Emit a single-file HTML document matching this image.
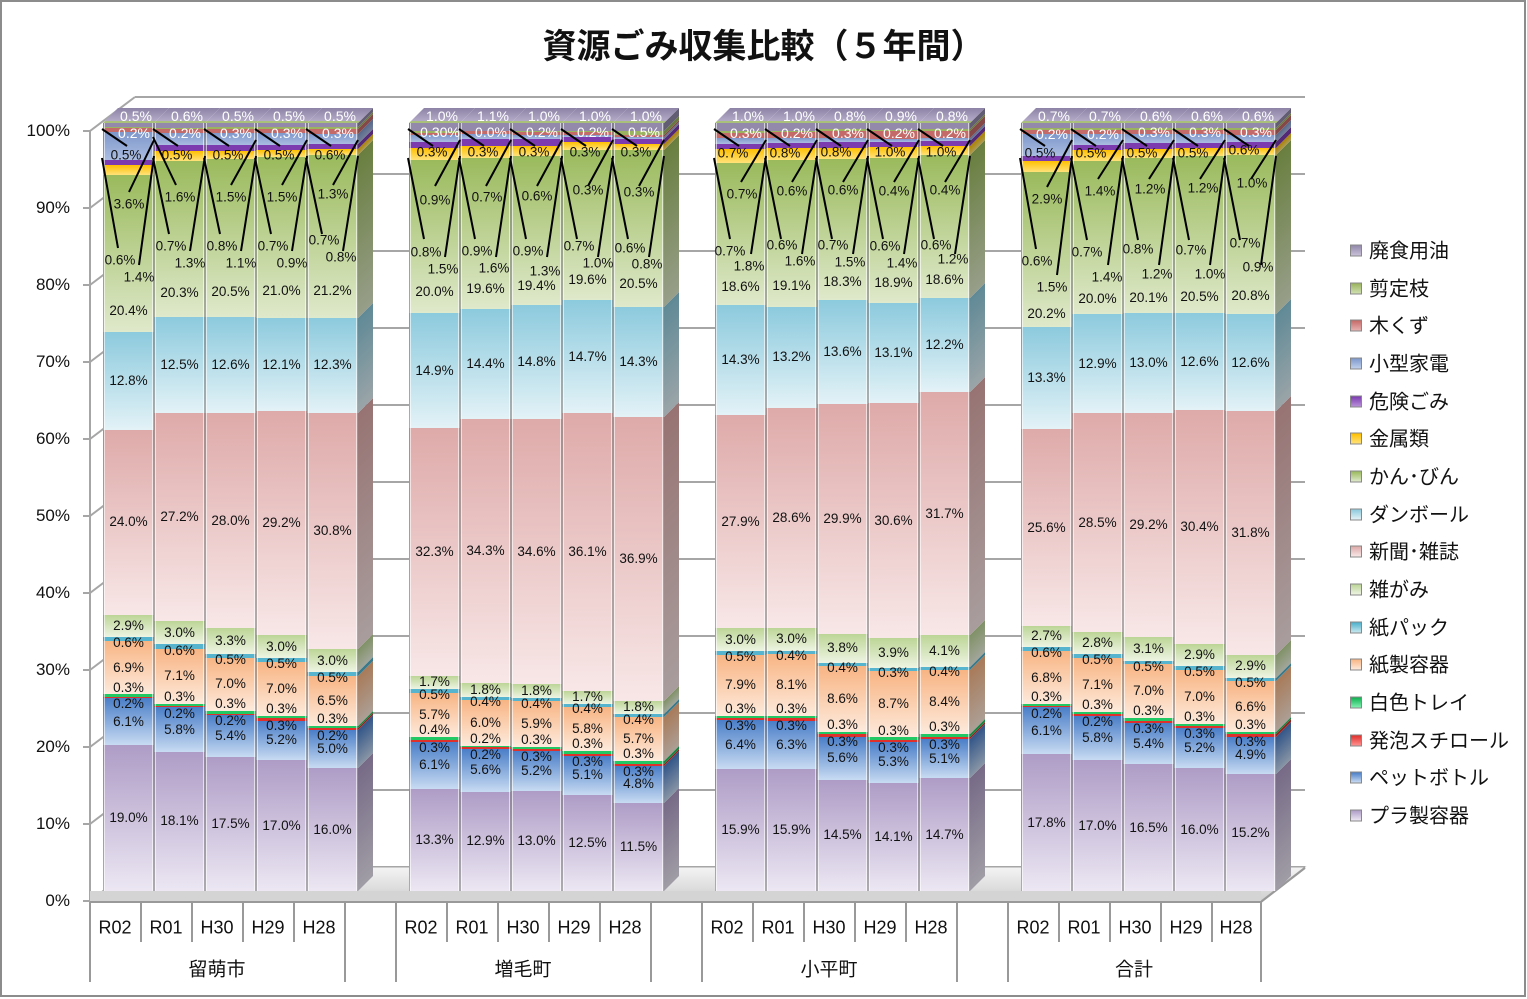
<!DOCTYPE html>
<html><head><meta charset="utf-8">
<style>
body{margin:0;background:#fff}
#c{position:relative;width:1527px;height:999px;overflow:hidden;font-family:"Liberation Sans","Noto Sans CJK JP",sans-serif;background:#fff}
svg.bg,svg.fg{position:absolute;left:0;top:0}
.bar{position:absolute;top:123px;height:768px;width:51px;display:flex;flex-direction:column-reverse;z-index:2}
.bar::after{content:"";position:absolute;left:0;top:0;right:0;bottom:0;border-left:1px solid rgba(120,120,120,.55);border-right:1px solid rgba(120,120,120,.55);box-shadow:inset 1px 0 0 rgba(255,255,255,.6),inset -1px 0 0 rgba(255,255,255,.6)}
.bar>div,.side>div{flex-basis:0;flex-shrink:0;min-height:0;position:relative}
.bar span{position:absolute;left:-4px;right:-4px;top:50%;margin-top:-8px;line-height:16px;text-align:center;font-size:13.5px;color:#111;white-space:nowrap;z-index:3}
.bar .s2 span{margin-top:-1px}.bar .s3 span{margin-top:-16px}.bar .s5 span{margin-top:-4px}
.g1 .s9 span{margin-top:46px}.g2 .s9 span{margin-top:47px}.g3 .s9 span{margin-top:45px}.g4 .s9 span{margin-top:54px}
.side{position:absolute;top:123px;width:15px;height:768px;transform:skewY(-45deg);transform-origin:0 0;display:flex;flex-direction:column-reverse;filter:brightness(.68);z-index:1}
.top{position:absolute;top:108px;height:15px;width:51px;transform:skewX(-45deg);transform-origin:0 100%;background:linear-gradient(#8d83a6,#b4abc8);border-bottom:2px solid #a9c07a;box-sizing:border-box;z-index:1}
.s0{background:linear-gradient(#ae9cc6,#ece7f3)}
.s1{background:linear-gradient(#4a7ec8,#c8dbf2)}
.s2{background:#e0302c}
.s3{background:#22c864}
.s4{background:linear-gradient(#f8b483,#fdeadc)}
.s5{background:#56b4cf}
.s6{background:linear-gradient(#bcd596,#eef4e3)}
.s7{background:linear-gradient(#deaaa9,#f8e7e7)}
.s8{background:linear-gradient(#8ccadd,#e3f2f7)}
.s9{background:linear-gradient(#9aba5c,#dfe9cb)}
.s10{background:linear-gradient(#ffc000,#ffe27a)}
.s11{background:#7c3cb0}
.s12{background:linear-gradient(#7e98cc,#aabce0)}
.s13{background:#c46a68}
.s14{background:#9ab35e}
.s15{background:#9289ab}
.l{position:absolute;transform:translate(-50%,-50%);font-size:13.5px;color:#111;white-space:nowrap;z-index:5}
.w{color:#fff;font-size:14px}
.ax{position:absolute;font-size:17px;color:#111;transform:translateY(-50%);right:1457px;text-align:right}
.cat{position:absolute;font-size:18px;color:#111;transform:translate(-50%,-50%);white-space:nowrap}
.grp{position:absolute;font-size:19px;color:#111;transform:translate(-50%,-50%);white-space:nowrap}
.lg{position:absolute;left:1350px;font-size:20px;color:#111;white-space:nowrap;transform:translateY(-50%)}
.lg i{display:inline-block;width:10px;height:10px;border:1px solid #888;margin-right:7px;vertical-align:middle;position:relative;top:-2px}
.title{position:absolute;left:0;width:1527px;top:19px;text-align:center;font-size:34px;font-weight:bold;color:#111}
</style></head><body><div id="c">
<svg class="bg" width="1527" height="999">
<rect x="1" y="1" width="1524" height="995" fill="none" stroke="#8c8c8c" stroke-width="2"/>
<defs><linearGradient id="fl" x1="0" y1="0" x2="0" y2="1"><stop offset="0" stop-color="#f4f4f4"/><stop offset="1" stop-color="#cfcfcf"/></linearGradient></defs>
<g stroke="#a6a6a6" stroke-width="2" fill="none">
<line x1="135" y1="867" x2="1305" y2="867"/><line x1="135" y1="790" x2="1305" y2="790"/><line x1="135" y1="713" x2="1305" y2="713"/><line x1="135" y1="636" x2="1305" y2="636"/><line x1="135" y1="559" x2="1305" y2="559"/><line x1="135" y1="482" x2="1305" y2="482"/><line x1="135" y1="405" x2="1305" y2="405"/><line x1="135" y1="328" x2="1305" y2="328"/><line x1="135" y1="251" x2="1305" y2="251"/><line x1="135" y1="174" x2="1305" y2="174"/><line x1="135" y1="97" x2="1305" y2="97"/>
<line x1="90" y1="901" x2="135" y2="867"/><line x1="90" y1="824" x2="135" y2="790"/><line x1="90" y1="747" x2="135" y2="713"/><line x1="90" y1="670" x2="135" y2="636"/><line x1="90" y1="593" x2="135" y2="559"/><line x1="90" y1="516" x2="135" y2="482"/><line x1="90" y1="439" x2="135" y2="405"/><line x1="90" y1="362" x2="135" y2="328"/><line x1="90" y1="285" x2="135" y2="251"/><line x1="90" y1="208" x2="135" y2="174"/><line x1="90" y1="131" x2="135" y2="97"/>
<line x1="90" y1="131" x2="90" y2="901"/>
<line x1="83" y1="901" x2="90" y2="901"/><line x1="83" y1="824" x2="90" y2="824"/><line x1="83" y1="747" x2="90" y2="747"/><line x1="83" y1="670" x2="90" y2="670"/><line x1="83" y1="593" x2="90" y2="593"/><line x1="83" y1="516" x2="90" y2="516"/><line x1="83" y1="439" x2="90" y2="439"/><line x1="83" y1="362" x2="90" y2="362"/><line x1="83" y1="285" x2="90" y2="285"/><line x1="83" y1="208" x2="90" y2="208"/><line x1="83" y1="131" x2="90" y2="131"/>
</g>
<polygon points="90,901 1261,901 1305,867 135,867" fill="url(#fl)" stroke="#a6a6a6" stroke-width="1"/>
<rect x="90" y="891" width="1171" height="10" fill="#d4d4d4"/>
<g stroke="#999" stroke-width="2">
<line x1="90" y1="902" x2="1261" y2="902"/><line x1="1261" y1="902" x2="1305" y2="868"/>
<line x1="90" y1="902" x2="90" y2="982"/><line x1="345" y1="902" x2="345" y2="982"/><line x1="396" y1="902" x2="396" y2="982"/><line x1="651" y1="902" x2="651" y2="982"/><line x1="702" y1="902" x2="702" y2="982"/><line x1="957" y1="902" x2="957" y2="982"/><line x1="1008" y1="902" x2="1008" y2="982"/><line x1="1261" y1="902" x2="1261" y2="982"/>
<line x1="141" y1="902" x2="141" y2="942"/><line x1="192" y1="902" x2="192" y2="942"/><line x1="243" y1="902" x2="243" y2="942"/><line x1="294" y1="902" x2="294" y2="942"/>
<line x1="447" y1="902" x2="447" y2="942"/><line x1="498" y1="902" x2="498" y2="942"/><line x1="549" y1="902" x2="549" y2="942"/><line x1="600" y1="902" x2="600" y2="942"/>
<line x1="753" y1="902" x2="753" y2="942"/><line x1="804" y1="902" x2="804" y2="942"/><line x1="855" y1="902" x2="855" y2="942"/><line x1="906" y1="902" x2="906" y2="942"/>
<line x1="1059" y1="902" x2="1059" y2="942"/><line x1="1110" y1="902" x2="1110" y2="942"/><line x1="1161" y1="902" x2="1161" y2="942"/><line x1="1212" y1="902" x2="1212" y2="942"/>
</g>
</svg>

<div class="title">資源ごみ収集比較（５年間）</div>

<div class="ax" style="top:131px">100%</div><div class="ax" style="top:208px">90%</div><div class="ax" style="top:285px">80%</div><div class="ax" style="top:362px">70%</div><div class="ax" style="top:439px">60%</div><div class="ax" style="top:516px">50%</div><div class="ax" style="top:593px">40%</div><div class="ax" style="top:670px">30%</div><div class="ax" style="top:747px">20%</div><div class="ax" style="top:824px">10%</div><div class="ax" style="top:901px">0%</div>

<div class="cat" style="left:115px;top:928px">R02</div><div class="cat" style="left:166px;top:928px">R01</div><div class="cat" style="left:217px;top:928px">H30</div><div class="cat" style="left:268px;top:928px">H29</div><div class="cat" style="left:319px;top:928px">H28</div>
<div class="cat" style="left:421px;top:928px">R02</div><div class="cat" style="left:472px;top:928px">R01</div><div class="cat" style="left:523px;top:928px">H30</div><div class="cat" style="left:574px;top:928px">H29</div><div class="cat" style="left:625px;top:928px">H28</div>
<div class="cat" style="left:727px;top:928px">R02</div><div class="cat" style="left:778px;top:928px">R01</div><div class="cat" style="left:829px;top:928px">H30</div><div class="cat" style="left:880px;top:928px">H29</div><div class="cat" style="left:931px;top:928px">H28</div>
<div class="cat" style="left:1033px;top:928px">R02</div><div class="cat" style="left:1084px;top:928px">R01</div><div class="cat" style="left:1135px;top:928px">H30</div><div class="cat" style="left:1186px;top:928px">H29</div><div class="cat" style="left:1236px;top:928px">H28</div>
<div class="grp" style="left:217px;top:968px">留萌市</div><div class="grp" style="left:523px;top:968px">増毛町</div><div class="grp" style="left:829px;top:968px">小平町</div><div class="grp" style="left:1134px;top:968px">合計</div>

<!-- side faces -->
<div class="side" style="left:358px"><div class="s0" style="flex-grow:16.0"></div><div class="s1" style="flex-grow:5.0"></div><div class="s2" style="flex-grow:0.2"></div><div class="s3" style="flex-grow:0.3"></div><div class="s4" style="flex-grow:6.5"></div><div class="s5" style="flex-grow:0.5"></div><div class="s6" style="flex-grow:3.0"></div><div class="s7" style="flex-grow:30.8"></div><div class="s8" style="flex-grow:12.3"></div><div class="s9" style="flex-grow:21.2"></div><div class="s10" style="flex-grow:0.8"></div><div class="s11" style="flex-grow:0.7"></div><div class="s12" style="flex-grow:1.3"></div><div class="s13" style="flex-grow:0.6"></div><div class="s14" style="flex-grow:0.3"></div><div class="s15" style="flex-grow:0.5"></div></div>
<div class="side" style="left:664px"><div class="s0" style="flex-grow:11.5"></div><div class="s1" style="flex-grow:4.8"></div><div class="s2" style="flex-grow:0.3"></div><div class="s3" style="flex-grow:0.3"></div><div class="s4" style="flex-grow:5.7"></div><div class="s5" style="flex-grow:0.4"></div><div class="s6" style="flex-grow:1.8"></div><div class="s7" style="flex-grow:36.9"></div><div class="s8" style="flex-grow:14.3"></div><div class="s9" style="flex-grow:20.5"></div><div class="s10" style="flex-grow:0.8"></div><div class="s11" style="flex-grow:0.6"></div><div class="s12" style="flex-grow:0.3"></div><div class="s13" style="flex-grow:0.3"></div><div class="s14" style="flex-grow:0.5"></div><div class="s15" style="flex-grow:1.0"></div></div>
<div class="side" style="left:970px"><div class="s0" style="flex-grow:14.7"></div><div class="s1" style="flex-grow:5.1"></div><div class="s2" style="flex-grow:0.3"></div><div class="s3" style="flex-grow:0.3"></div><div class="s4" style="flex-grow:8.4"></div><div class="s5" style="flex-grow:0.4"></div><div class="s6" style="flex-grow:4.1"></div><div class="s7" style="flex-grow:31.7"></div><div class="s8" style="flex-grow:12.2"></div><div class="s9" style="flex-grow:18.6"></div><div class="s10" style="flex-grow:1.2"></div><div class="s11" style="flex-grow:0.6"></div><div class="s12" style="flex-grow:0.4"></div><div class="s13" style="flex-grow:1.0"></div><div class="s14" style="flex-grow:0.2"></div><div class="s15" style="flex-grow:0.8"></div></div>
<div class="side" style="left:1276px"><div class="s0" style="flex-grow:15.2"></div><div class="s1" style="flex-grow:4.9"></div><div class="s2" style="flex-grow:0.3"></div><div class="s3" style="flex-grow:0.3"></div><div class="s4" style="flex-grow:6.6"></div><div class="s5" style="flex-grow:0.5"></div><div class="s6" style="flex-grow:2.9"></div><div class="s7" style="flex-grow:31.8"></div><div class="s8" style="flex-grow:12.6"></div><div class="s9" style="flex-grow:20.8"></div><div class="s10" style="flex-grow:0.9"></div><div class="s11" style="flex-grow:0.7"></div><div class="s12" style="flex-grow:1.0"></div><div class="s13" style="flex-grow:0.6"></div><div class="s14" style="flex-grow:0.3"></div><div class="s15" style="flex-grow:0.6"></div></div>

<!-- top faces -->
<div class="top" style="left:103px"></div><div class="top" style="left:154px"></div><div class="top" style="left:205px"></div><div class="top" style="left:256px"></div><div class="top" style="left:307px"></div>
<div class="top" style="left:409px"></div><div class="top" style="left:460px"></div><div class="top" style="left:511px"></div><div class="top" style="left:562px"></div><div class="top" style="left:613px"></div>
<div class="top" style="left:715px"></div><div class="top" style="left:766px"></div><div class="top" style="left:817px"></div><div class="top" style="left:868px"></div><div class="top" style="left:919px"></div>
<div class="top" style="left:1021px"></div><div class="top" style="left:1072px"></div><div class="top" style="left:1123px"></div><div class="top" style="left:1174px"></div><div class="top" style="left:1225px"></div>

<!-- Group 1 -->
<div class="g1">
<div class="bar" style="left:103px"><div class="s0" style="flex-grow:19.0"><span>19.0%</span></div><div class="s1" style="flex-grow:6.1"><span>6.1%</span></div><div class="s2" style="flex-grow:0.2"><span>0.2%</span></div><div class="s3" style="flex-grow:0.3"><span>0.3%</span></div><div class="s4" style="flex-grow:6.9"><span>6.9%</span></div><div class="s5" style="flex-grow:0.6"><span>0.6%</span></div><div class="s6" style="flex-grow:2.9"><span>2.9%</span></div><div class="s7" style="flex-grow:24.0"><span>24.0%</span></div><div class="s8" style="flex-grow:12.8"><span>12.8%</span></div><div class="s9" style="flex-grow:20.4"><span style="margin-top:49px">20.4%</span></div><div class="s10" style="flex-grow:1.4"></div><div class="s11" style="flex-grow:0.6"></div><div class="s12" style="flex-grow:3.6"></div><div class="s13" style="flex-grow:0.5"></div><div class="s14" style="flex-grow:0.2"></div><div class="s15" style="flex-grow:0.5"></div></div>
<div class="bar" style="left:154px"><div class="s0" style="flex-grow:18.1"><span>18.1%</span></div><div class="s1" style="flex-grow:5.8"><span>5.8%</span></div><div class="s2" style="flex-grow:0.2"><span>0.2%</span></div><div class="s3" style="flex-grow:0.3"><span>0.3%</span></div><div class="s4" style="flex-grow:7.1"><span>7.1%</span></div><div class="s5" style="flex-grow:0.6"><span>0.6%</span></div><div class="s6" style="flex-grow:3.0"><span>3.0%</span></div><div class="s7" style="flex-grow:27.2"><span>27.2%</span></div><div class="s8" style="flex-grow:12.5"><span>12.5%</span></div><div class="s9" style="flex-grow:20.3"><span>20.3%</span></div><div class="s10" style="flex-grow:1.3"></div><div class="s11" style="flex-grow:0.7"></div><div class="s12" style="flex-grow:1.6"></div><div class="s13" style="flex-grow:0.5"></div><div class="s14" style="flex-grow:0.2"></div><div class="s15" style="flex-grow:0.6"></div></div>
<div class="bar" style="left:205px"><div class="s0" style="flex-grow:17.5"><span>17.5%</span></div><div class="s1" style="flex-grow:5.4"><span>5.4%</span></div><div class="s2" style="flex-grow:0.2"><span>0.2%</span></div><div class="s3" style="flex-grow:0.3"><span>0.3%</span></div><div class="s4" style="flex-grow:7.0"><span>7.0%</span></div><div class="s5" style="flex-grow:0.5"><span>0.5%</span></div><div class="s6" style="flex-grow:3.3"><span>3.3%</span></div><div class="s7" style="flex-grow:28.0"><span>28.0%</span></div><div class="s8" style="flex-grow:12.6"><span>12.6%</span></div><div class="s9" style="flex-grow:20.5"><span>20.5%</span></div><div class="s10" style="flex-grow:1.1"></div><div class="s11" style="flex-grow:0.8"></div><div class="s12" style="flex-grow:1.5"></div><div class="s13" style="flex-grow:0.5"></div><div class="s14" style="flex-grow:0.3"></div><div class="s15" style="flex-grow:0.5"></div></div>
<div class="bar" style="left:256px"><div class="s0" style="flex-grow:17.0"><span>17.0%</span></div><div class="s1" style="flex-grow:5.2"><span>5.2%</span></div><div class="s2" style="flex-grow:0.3"><span>0.3%</span></div><div class="s3" style="flex-grow:0.3"><span>0.3%</span></div><div class="s4" style="flex-grow:7.0"><span>7.0%</span></div><div class="s5" style="flex-grow:0.5"><span>0.5%</span></div><div class="s6" style="flex-grow:3.0"><span>3.0%</span></div><div class="s7" style="flex-grow:29.2"><span>29.2%</span></div><div class="s8" style="flex-grow:12.1"><span>12.1%</span></div><div class="s9" style="flex-grow:21.0"><span>21.0%</span></div><div class="s10" style="flex-grow:0.9"></div><div class="s11" style="flex-grow:0.7"></div><div class="s12" style="flex-grow:1.5"></div><div class="s13" style="flex-grow:0.5"></div><div class="s14" style="flex-grow:0.3"></div><div class="s15" style="flex-grow:0.5"></div></div>
<div class="bar" style="left:307px"><div class="s0" style="flex-grow:16.0"><span>16.0%</span></div><div class="s1" style="flex-grow:5.0"><span>5.0%</span></div><div class="s2" style="flex-grow:0.2"><span>0.2%</span></div><div class="s3" style="flex-grow:0.3"><span>0.3%</span></div><div class="s4" style="flex-grow:6.5"><span>6.5%</span></div><div class="s5" style="flex-grow:0.5"><span>0.5%</span></div><div class="s6" style="flex-grow:3.0"><span>3.0%</span></div><div class="s7" style="flex-grow:30.8"><span>30.8%</span></div><div class="s8" style="flex-grow:12.3"><span>12.3%</span></div><div class="s9" style="flex-grow:21.2"><span>21.2%</span></div><div class="s10" style="flex-grow:0.8"></div><div class="s11" style="flex-grow:0.7"></div><div class="s12" style="flex-grow:1.3"></div><div class="s13" style="flex-grow:0.6"></div><div class="s14" style="flex-grow:0.3"></div><div class="s15" style="flex-grow:0.5"></div></div>
</div>

<!-- Group 2 -->
<div class="g2">
<div class="bar" style="left:409px"><div class="s0" style="flex-grow:13.3"><span>13.3%</span></div><div class="s1" style="flex-grow:6.1"><span>6.1%</span></div><div class="s2" style="flex-grow:0.3"><span>0.3%</span></div><div class="s3" style="flex-grow:0.4"><span>0.4%</span></div><div class="s4" style="flex-grow:5.7"><span>5.7%</span></div><div class="s5" style="flex-grow:0.5"><span>0.5%</span></div><div class="s6" style="flex-grow:1.7"><span>1.7%</span></div><div class="s7" style="flex-grow:32.3"><span>32.3%</span></div><div class="s8" style="flex-grow:14.9"><span>14.9%</span></div><div class="s9" style="flex-grow:20.0"><span>20.0%</span></div><div class="s10" style="flex-grow:1.5"></div><div class="s11" style="flex-grow:0.8"></div><div class="s12" style="flex-grow:0.9"></div><div class="s13" style="flex-grow:0.3"></div><div class="s14" style="flex-grow:0.3"></div><div class="s15" style="flex-grow:1.0"></div></div>
<div class="bar" style="left:460px"><div class="s0" style="flex-grow:12.9"><span>12.9%</span></div><div class="s1" style="flex-grow:5.6"><span>5.6%</span></div><div class="s2" style="flex-grow:0.2"><span>0.2%</span></div><div class="s3" style="flex-grow:0.2"><span>0.2%</span></div><div class="s4" style="flex-grow:6.0"><span>6.0%</span></div><div class="s5" style="flex-grow:0.4"><span>0.4%</span></div><div class="s6" style="flex-grow:1.8"><span>1.8%</span></div><div class="s7" style="flex-grow:34.3"><span>34.3%</span></div><div class="s8" style="flex-grow:14.4"><span>14.4%</span></div><div class="s9" style="flex-grow:19.6"><span>19.6%</span></div><div class="s10" style="flex-grow:1.6"></div><div class="s11" style="flex-grow:0.9"></div><div class="s12" style="flex-grow:0.7"></div><div class="s13" style="flex-grow:0.3"></div><div class="s14" style="flex-grow:0.0"></div><div class="s15" style="flex-grow:1.1"></div></div>
<div class="bar" style="left:511px"><div class="s0" style="flex-grow:13.0"><span>13.0%</span></div><div class="s1" style="flex-grow:5.2"><span>5.2%</span></div><div class="s2" style="flex-grow:0.3"><span>0.3%</span></div><div class="s3" style="flex-grow:0.3"><span>0.3%</span></div><div class="s4" style="flex-grow:5.9"><span>5.9%</span></div><div class="s5" style="flex-grow:0.4"><span>0.4%</span></div><div class="s6" style="flex-grow:1.8"><span>1.8%</span></div><div class="s7" style="flex-grow:34.6"><span>34.6%</span></div><div class="s8" style="flex-grow:14.8"><span>14.8%</span></div><div class="s9" style="flex-grow:19.4"><span>19.4%</span></div><div class="s10" style="flex-grow:1.3"></div><div class="s11" style="flex-grow:0.9"></div><div class="s12" style="flex-grow:0.6"></div><div class="s13" style="flex-grow:0.3"></div><div class="s14" style="flex-grow:0.2"></div><div class="s15" style="flex-grow:1.0"></div></div>
<div class="bar" style="left:562px"><div class="s0" style="flex-grow:12.5"><span>12.5%</span></div><div class="s1" style="flex-grow:5.1"><span>5.1%</span></div><div class="s2" style="flex-grow:0.3"><span>0.3%</span></div><div class="s3" style="flex-grow:0.3"><span>0.3%</span></div><div class="s4" style="flex-grow:5.8"><span>5.8%</span></div><div class="s5" style="flex-grow:0.4"><span>0.4%</span></div><div class="s6" style="flex-grow:1.7"><span>1.7%</span></div><div class="s7" style="flex-grow:36.1"><span>36.1%</span></div><div class="s8" style="flex-grow:14.7"><span>14.7%</span></div><div class="s9" style="flex-grow:19.6"><span>19.6%</span></div><div class="s10" style="flex-grow:1.0"></div><div class="s11" style="flex-grow:0.7"></div><div class="s12" style="flex-grow:0.3"></div><div class="s13" style="flex-grow:0.3"></div><div class="s14" style="flex-grow:0.2"></div><div class="s15" style="flex-grow:1.0"></div></div>
<div class="bar" style="left:613px"><div class="s0" style="flex-grow:11.5"><span>11.5%</span></div><div class="s1" style="flex-grow:4.8"><span>4.8%</span></div><div class="s2" style="flex-grow:0.3"><span>0.3%</span></div><div class="s3" style="flex-grow:0.3"><span>0.3%</span></div><div class="s4" style="flex-grow:5.7"><span>5.7%</span></div><div class="s5" style="flex-grow:0.4"><span>0.4%</span></div><div class="s6" style="flex-grow:1.8"><span>1.8%</span></div><div class="s7" style="flex-grow:36.9"><span>36.9%</span></div><div class="s8" style="flex-grow:14.3"><span>14.3%</span></div><div class="s9" style="flex-grow:20.5"><span>20.5%</span></div><div class="s10" style="flex-grow:0.8"></div><div class="s11" style="flex-grow:0.6"></div><div class="s12" style="flex-grow:0.3"></div><div class="s13" style="flex-grow:0.3"></div><div class="s14" style="flex-grow:0.5"></div><div class="s15" style="flex-grow:1.0"></div></div>
</div>

<!-- Group 3 -->
<div class="g3">
<div class="bar" style="left:715px"><div class="s0" style="flex-grow:15.9"><span>15.9%</span></div><div class="s1" style="flex-grow:6.4"><span>6.4%</span></div><div class="s2" style="flex-grow:0.3"><span>0.3%</span></div><div class="s3" style="flex-grow:0.3"><span>0.3%</span></div><div class="s4" style="flex-grow:7.9"><span>7.9%</span></div><div class="s5" style="flex-grow:0.5"><span>0.5%</span></div><div class="s6" style="flex-grow:3.0"><span>3.0%</span></div><div class="s7" style="flex-grow:27.9"><span>27.9%</span></div><div class="s8" style="flex-grow:14.3"><span>14.3%</span></div><div class="s9" style="flex-grow:18.6"><span>18.6%</span></div><div class="s10" style="flex-grow:1.8"></div><div class="s11" style="flex-grow:0.7"></div><div class="s12" style="flex-grow:0.7"></div><div class="s13" style="flex-grow:0.7"></div><div class="s14" style="flex-grow:0.3"></div><div class="s15" style="flex-grow:1.0"></div></div>
<div class="bar" style="left:766px"><div class="s0" style="flex-grow:15.9"><span>15.9%</span></div><div class="s1" style="flex-grow:6.3"><span>6.3%</span></div><div class="s2" style="flex-grow:0.3"><span>0.3%</span></div><div class="s3" style="flex-grow:0.3"><span>0.3%</span></div><div class="s4" style="flex-grow:8.1"><span>8.1%</span></div><div class="s5" style="flex-grow:0.4"><span>0.4%</span></div><div class="s6" style="flex-grow:3.0"><span>3.0%</span></div><div class="s7" style="flex-grow:28.6"><span>28.6%</span></div><div class="s8" style="flex-grow:13.2"><span>13.2%</span></div><div class="s9" style="flex-grow:19.1"><span>19.1%</span></div><div class="s10" style="flex-grow:1.6"></div><div class="s11" style="flex-grow:0.6"></div><div class="s12" style="flex-grow:0.6"></div><div class="s13" style="flex-grow:0.8"></div><div class="s14" style="flex-grow:0.2"></div><div class="s15" style="flex-grow:1.0"></div></div>
<div class="bar" style="left:817px"><div class="s0" style="flex-grow:14.5"><span>14.5%</span></div><div class="s1" style="flex-grow:5.6"><span>5.6%</span></div><div class="s2" style="flex-grow:0.3"><span>0.3%</span></div><div class="s3" style="flex-grow:0.3"><span>0.3%</span></div><div class="s4" style="flex-grow:8.6"><span>8.6%</span></div><div class="s5" style="flex-grow:0.4"><span>0.4%</span></div><div class="s6" style="flex-grow:3.8"><span>3.8%</span></div><div class="s7" style="flex-grow:29.9"><span>29.9%</span></div><div class="s8" style="flex-grow:13.6"><span>13.6%</span></div><div class="s9" style="flex-grow:18.3"><span>18.3%</span></div><div class="s10" style="flex-grow:1.5"></div><div class="s11" style="flex-grow:0.7"></div><div class="s12" style="flex-grow:0.6"></div><div class="s13" style="flex-grow:0.8"></div><div class="s14" style="flex-grow:0.3"></div><div class="s15" style="flex-grow:0.8"></div></div>
<div class="bar" style="left:868px"><div class="s0" style="flex-grow:14.1"><span>14.1%</span></div><div class="s1" style="flex-grow:5.3"><span>5.3%</span></div><div class="s2" style="flex-grow:0.3"><span>0.3%</span></div><div class="s3" style="flex-grow:0.3"><span>0.3%</span></div><div class="s4" style="flex-grow:8.7"><span>8.7%</span></div><div class="s5" style="flex-grow:0.3"><span>0.3%</span></div><div class="s6" style="flex-grow:3.9"><span>3.9%</span></div><div class="s7" style="flex-grow:30.6"><span>30.6%</span></div><div class="s8" style="flex-grow:13.1"><span>13.1%</span></div><div class="s9" style="flex-grow:18.9"><span>18.9%</span></div><div class="s10" style="flex-grow:1.4"></div><div class="s11" style="flex-grow:0.6"></div><div class="s12" style="flex-grow:0.4"></div><div class="s13" style="flex-grow:1.0"></div><div class="s14" style="flex-grow:0.2"></div><div class="s15" style="flex-grow:0.9"></div></div>
<div class="bar" style="left:919px"><div class="s0" style="flex-grow:14.7"><span>14.7%</span></div><div class="s1" style="flex-grow:5.1"><span>5.1%</span></div><div class="s2" style="flex-grow:0.3"><span>0.3%</span></div><div class="s3" style="flex-grow:0.3"><span>0.3%</span></div><div class="s4" style="flex-grow:8.4"><span>8.4%</span></div><div class="s5" style="flex-grow:0.4"><span>0.4%</span></div><div class="s6" style="flex-grow:4.1"><span>4.1%</span></div><div class="s7" style="flex-grow:31.7"><span>31.7%</span></div><div class="s8" style="flex-grow:12.2"><span>12.2%</span></div><div class="s9" style="flex-grow:18.6"><span>18.6%</span></div><div class="s10" style="flex-grow:1.2"></div><div class="s11" style="flex-grow:0.6"></div><div class="s12" style="flex-grow:0.4"></div><div class="s13" style="flex-grow:1.0"></div><div class="s14" style="flex-grow:0.2"></div><div class="s15" style="flex-grow:0.8"></div></div>
</div>

<!-- Group 4 -->
<div class="g4">
<div class="bar" style="left:1021px"><div class="s0" style="flex-grow:17.8"><span>17.8%</span></div><div class="s1" style="flex-grow:6.1"><span>6.1%</span></div><div class="s2" style="flex-grow:0.2"><span>0.2%</span></div><div class="s3" style="flex-grow:0.3"><span>0.3%</span></div><div class="s4" style="flex-grow:6.8"><span>6.8%</span></div><div class="s5" style="flex-grow:0.6"><span>0.6%</span></div><div class="s6" style="flex-grow:2.7"><span>2.7%</span></div><div class="s7" style="flex-grow:25.6"><span>25.6%</span></div><div class="s8" style="flex-grow:13.3"><span>13.3%</span></div><div class="s9" style="flex-grow:20.2"><span style="margin-top:56px">20.2%</span></div><div class="s10" style="flex-grow:1.5"></div><div class="s11" style="flex-grow:0.6"></div><div class="s12" style="flex-grow:2.9"></div><div class="s13" style="flex-grow:0.5"></div><div class="s14" style="flex-grow:0.2"></div><div class="s15" style="flex-grow:0.7"></div></div>
<div class="bar" style="left:1072px"><div class="s0" style="flex-grow:17.0"><span>17.0%</span></div><div class="s1" style="flex-grow:5.8"><span>5.8%</span></div><div class="s2" style="flex-grow:0.2"><span>0.2%</span></div><div class="s3" style="flex-grow:0.3"><span>0.3%</span></div><div class="s4" style="flex-grow:7.1"><span>7.1%</span></div><div class="s5" style="flex-grow:0.5"><span>0.5%</span></div><div class="s6" style="flex-grow:2.8"><span>2.8%</span></div><div class="s7" style="flex-grow:28.5"><span>28.5%</span></div><div class="s8" style="flex-grow:12.9"><span>12.9%</span></div><div class="s9" style="flex-grow:20.0"><span>20.0%</span></div><div class="s10" style="flex-grow:1.4"></div><div class="s11" style="flex-grow:0.7"></div><div class="s12" style="flex-grow:1.4"></div><div class="s13" style="flex-grow:0.5"></div><div class="s14" style="flex-grow:0.2"></div><div class="s15" style="flex-grow:0.7"></div></div>
<div class="bar" style="left:1123px"><div class="s0" style="flex-grow:16.5"><span>16.5%</span></div><div class="s1" style="flex-grow:5.4"><span>5.4%</span></div><div class="s2" style="flex-grow:0.3"><span>0.3%</span></div><div class="s3" style="flex-grow:0.3"><span>0.3%</span></div><div class="s4" style="flex-grow:7.0"><span>7.0%</span></div><div class="s5" style="flex-grow:0.5"><span>0.5%</span></div><div class="s6" style="flex-grow:3.1"><span>3.1%</span></div><div class="s7" style="flex-grow:29.2"><span>29.2%</span></div><div class="s8" style="flex-grow:13.0"><span>13.0%</span></div><div class="s9" style="flex-grow:20.1"><span>20.1%</span></div><div class="s10" style="flex-grow:1.2"></div><div class="s11" style="flex-grow:0.8"></div><div class="s12" style="flex-grow:1.2"></div><div class="s13" style="flex-grow:0.5"></div><div class="s14" style="flex-grow:0.3"></div><div class="s15" style="flex-grow:0.6"></div></div>
<div class="bar" style="left:1174px"><div class="s0" style="flex-grow:16.0"><span>16.0%</span></div><div class="s1" style="flex-grow:5.2"><span>5.2%</span></div><div class="s2" style="flex-grow:0.3"><span>0.3%</span></div><div class="s3" style="flex-grow:0.3"><span>0.3%</span></div><div class="s4" style="flex-grow:7.0"><span>7.0%</span></div><div class="s5" style="flex-grow:0.5"><span>0.5%</span></div><div class="s6" style="flex-grow:2.9"><span>2.9%</span></div><div class="s7" style="flex-grow:30.4"><span>30.4%</span></div><div class="s8" style="flex-grow:12.6"><span>12.6%</span></div><div class="s9" style="flex-grow:20.5"><span>20.5%</span></div><div class="s10" style="flex-grow:1.0"></div><div class="s11" style="flex-grow:0.7"></div><div class="s12" style="flex-grow:1.2"></div><div class="s13" style="flex-grow:0.5"></div><div class="s14" style="flex-grow:0.3"></div><div class="s15" style="flex-grow:0.6"></div></div>
<div class="bar" style="left:1225px"><div class="s0" style="flex-grow:15.2"><span>15.2%</span></div><div class="s1" style="flex-grow:4.9"><span>4.9%</span></div><div class="s2" style="flex-grow:0.3"><span>0.3%</span></div><div class="s3" style="flex-grow:0.3"><span>0.3%</span></div><div class="s4" style="flex-grow:6.6"><span>6.6%</span></div><div class="s5" style="flex-grow:0.5"><span>0.5%</span></div><div class="s6" style="flex-grow:2.9"><span>2.9%</span></div><div class="s7" style="flex-grow:31.8"><span>31.8%</span></div><div class="s8" style="flex-grow:12.6"><span>12.6%</span></div><div class="s9" style="flex-grow:20.8"><span>20.8%</span></div><div class="s10" style="flex-grow:0.9"></div><div class="s11" style="flex-grow:0.7"></div><div class="s12" style="flex-grow:1.0"></div><div class="s13" style="flex-grow:0.6"></div><div class="s14" style="flex-grow:0.3"></div><div class="s15" style="flex-grow:0.6"></div></div>
</div>

<!-- leader lines -->
<svg class="fg" width="1527" height="999" style="z-index:4">
<g stroke="#000" stroke-width="2">
<line x1="102" y1="129" x2="127" y2="146"/><line x1="129" y1="192" x2="154" y2="140"/><line x1="102" y1="158" x2="118" y2="248"/><line x1="139" y1="265" x2="154" y2="156"/>
<line x1="153" y1="129" x2="178" y2="146"/><line x1="153" y1="137" x2="176" y2="185"/><line x1="153" y1="158" x2="169" y2="234"/><line x1="190" y1="251" x2="205" y2="156"/>
<line x1="204" y1="129" x2="229" y2="146"/><line x1="231" y1="185" x2="256" y2="140"/><line x1="204" y1="158" x2="220" y2="234"/><line x1="241" y1="251" x2="256" y2="156"/>
<line x1="255" y1="129" x2="280" y2="146"/><line x1="282" y1="185" x2="307" y2="140"/><line x1="255" y1="158" x2="271" y2="234"/><line x1="292" y1="251" x2="307" y2="156"/>
<line x1="306" y1="129" x2="331" y2="146"/><line x1="333" y1="185" x2="358" y2="140"/><line x1="306" y1="158" x2="322" y2="234"/><line x1="343" y1="251" x2="358" y2="156"/>

<line x1="408" y1="129" x2="433" y2="146"/><line x1="435" y1="186" x2="460" y2="140"/><line x1="408" y1="158" x2="424" y2="239"/><line x1="445" y1="257" x2="460" y2="156"/>
<line x1="459" y1="129" x2="484" y2="146"/><line x1="486" y1="186" x2="511" y2="140"/><line x1="459" y1="158" x2="475" y2="239"/><line x1="496" y1="257" x2="511" y2="156"/>
<line x1="510" y1="129" x2="535" y2="146"/><line x1="537" y1="186" x2="562" y2="140"/><line x1="510" y1="158" x2="526" y2="239"/><line x1="547" y1="257" x2="562" y2="156"/>
<line x1="561" y1="129" x2="586" y2="146"/><line x1="588" y1="186" x2="613" y2="140"/><line x1="561" y1="158" x2="577" y2="239"/><line x1="598" y1="257" x2="613" y2="156"/>
<line x1="612" y1="129" x2="637" y2="146"/><line x1="639" y1="186" x2="664" y2="140"/><line x1="612" y1="158" x2="628" y2="239"/><line x1="649" y1="257" x2="664" y2="156"/>

<line x1="714" y1="129" x2="739" y2="146"/><line x1="741" y1="182" x2="766" y2="140"/><line x1="714" y1="158" x2="730" y2="239"/><line x1="751" y1="254" x2="766" y2="156"/>
<line x1="765" y1="129" x2="790" y2="146"/><line x1="792" y1="182" x2="817" y2="140"/><line x1="765" y1="158" x2="781" y2="239"/><line x1="802" y1="254" x2="817" y2="156"/>
<line x1="816" y1="129" x2="841" y2="146"/><line x1="843" y1="182" x2="868" y2="140"/><line x1="816" y1="158" x2="832" y2="239"/><line x1="853" y1="254" x2="868" y2="156"/>
<line x1="867" y1="129" x2="892" y2="146"/><line x1="894" y1="182" x2="919" y2="140"/><line x1="867" y1="158" x2="883" y2="239"/><line x1="904" y1="254" x2="919" y2="156"/>
<line x1="918" y1="129" x2="943" y2="146"/><line x1="945" y1="182" x2="970" y2="140"/><line x1="918" y1="158" x2="934" y2="239"/><line x1="955" y1="254" x2="970" y2="156"/>

<line x1="1020" y1="129" x2="1045" y2="146"/><line x1="1047" y1="187" x2="1072" y2="140"/><line x1="1020" y1="158" x2="1036" y2="249"/><line x1="1057" y1="275" x2="1072" y2="156"/>
<line x1="1071" y1="129" x2="1096" y2="146"/><line x1="1098" y1="179" x2="1123" y2="140"/><line x1="1071" y1="158" x2="1087" y2="240"/><line x1="1108" y1="265" x2="1123" y2="156"/>
<line x1="1122" y1="129" x2="1147" y2="146"/><line x1="1149" y1="179" x2="1174" y2="140"/><line x1="1122" y1="158" x2="1138" y2="240"/><line x1="1159" y1="265" x2="1174" y2="156"/>
<line x1="1173" y1="129" x2="1198" y2="146"/><line x1="1200" y1="179" x2="1225" y2="140"/><line x1="1173" y1="158" x2="1189" y2="240"/><line x1="1210" y1="265" x2="1225" y2="156"/>
<line x1="1224" y1="129" x2="1249" y2="146"/><line x1="1251" y1="179" x2="1276" y2="140"/><line x1="1224" y1="158" x2="1240" y2="240"/><line x1="1261" y1="265" x2="1276" y2="156"/>
</g></svg>

<!-- leader labels G1 -->
<div class="l w" style="left:136px;top:116px">0.5%</div><div class="l w" style="left:134px;top:133px">0.2%</div><div class="l" style="left:126px;top:155px">0.5%</div><div class="l" style="left:129px;top:204px">3.6%</div><div class="l" style="left:120px;top:260px">0.6%</div><div class="l" style="left:139px;top:277px">1.4%</div>
<div class="l w" style="left:187px;top:116px">0.6%</div><div class="l w" style="left:185px;top:133px">0.2%</div><div class="l" style="left:177px;top:155px">0.5%</div><div class="l" style="left:180px;top:197px">1.6%</div><div class="l" style="left:171px;top:246px">0.7%</div><div class="l" style="left:190px;top:263px">1.3%</div>
<div class="l w" style="left:238px;top:116px">0.5%</div><div class="l w" style="left:236px;top:133px">0.3%</div><div class="l" style="left:228px;top:155px">0.5%</div><div class="l" style="left:231px;top:197px">1.5%</div><div class="l" style="left:222px;top:246px">0.8%</div><div class="l" style="left:241px;top:263px">1.1%</div>
<div class="l w" style="left:289px;top:116px">0.5%</div><div class="l w" style="left:287px;top:133px">0.3%</div><div class="l" style="left:279px;top:155px">0.5%</div><div class="l" style="left:282px;top:197px">1.5%</div><div class="l" style="left:273px;top:246px">0.7%</div><div class="l" style="left:292px;top:263px">0.9%</div>
<div class="l w" style="left:340px;top:116px">0.5%</div><div class="l w" style="left:338px;top:133px">0.3%</div><div class="l" style="left:330px;top:155px">0.6%</div><div class="l" style="left:333px;top:194px">1.3%</div><div class="l" style="left:324px;top:240px">0.7%</div><div class="l" style="left:341px;top:257px">0.8%</div>
<!-- G2 -->
<div class="l w" style="left:442px;top:116px">1.0%</div><div class="l w" style="left:440px;top:132px">0.30%</div><div class="l" style="left:432px;top:152px">0.3%</div><div class="l" style="left:435px;top:200px">0.9%</div><div class="l" style="left:426px;top:252px">0.8%</div><div class="l" style="left:443px;top:269px">1.5%</div>
<div class="l w" style="left:493px;top:116px">1.1%</div><div class="l w" style="left:491px;top:132px">0.0%</div><div class="l" style="left:483px;top:152px">0.3%</div><div class="l" style="left:487px;top:197px">0.7%</div><div class="l" style="left:477px;top:251px">0.9%</div><div class="l" style="left:494px;top:268px">1.6%</div>
<div class="l w" style="left:544px;top:116px">1.0%</div><div class="l w" style="left:542px;top:132px">0.2%</div><div class="l" style="left:534px;top:152px">0.3%</div><div class="l" style="left:537px;top:196px">0.6%</div><div class="l" style="left:528px;top:251px">0.9%</div><div class="l" style="left:545px;top:271px">1.3%</div>
<div class="l w" style="left:595px;top:116px">1.0%</div><div class="l w" style="left:593px;top:132px">0.2%</div><div class="l" style="left:585px;top:152px">0.3%</div><div class="l" style="left:588px;top:190px">0.3%</div><div class="l" style="left:579px;top:246px">0.7%</div><div class="l" style="left:598px;top:263px">1.0%</div>
<div class="l w" style="left:646px;top:116px">1.0%</div><div class="l w" style="left:644px;top:132px">0.5%</div><div class="l" style="left:636px;top:152px">0.3%</div><div class="l" style="left:639px;top:192px">0.3%</div><div class="l" style="left:630px;top:248px">0.6%</div><div class="l" style="left:647px;top:264px">0.8%</div>
<!-- G3 -->
<div class="l w" style="left:748px;top:116px">1.0%</div><div class="l w" style="left:746px;top:133px">0.3%</div><div class="l" style="left:733px;top:153px">0.7%</div><div class="l" style="left:742px;top:194px">0.7%</div><div class="l" style="left:730px;top:251px">0.7%</div><div class="l" style="left:749px;top:266px">1.8%</div>
<div class="l w" style="left:799px;top:116px">1.0%</div><div class="l w" style="left:797px;top:133px">0.2%</div><div class="l" style="left:785px;top:153px">0.8%</div><div class="l" style="left:792px;top:191px">0.6%</div><div class="l" style="left:782px;top:245px">0.6%</div><div class="l" style="left:800px;top:261px">1.6%</div>
<div class="l w" style="left:850px;top:116px">0.8%</div><div class="l w" style="left:848px;top:133px">0.3%</div><div class="l" style="left:836px;top:152px">0.8%</div><div class="l" style="left:843px;top:190px">0.6%</div><div class="l" style="left:833px;top:245px">0.7%</div><div class="l" style="left:850px;top:262px">1.5%</div>
<div class="l w" style="left:901px;top:116px">0.9%</div><div class="l w" style="left:899px;top:133px">0.2%</div><div class="l" style="left:890px;top:152px">1.0%</div><div class="l" style="left:894px;top:191px">0.4%</div><div class="l" style="left:885px;top:246px">0.6%</div><div class="l" style="left:902px;top:263px">1.4%</div>
<div class="l w" style="left:952px;top:116px">0.8%</div><div class="l w" style="left:950px;top:133px">0.2%</div><div class="l" style="left:941px;top:152px">1.0%</div><div class="l" style="left:945px;top:190px">0.4%</div><div class="l" style="left:936px;top:245px">0.6%</div><div class="l" style="left:953px;top:259px">1.2%</div>
<!-- G4 -->
<div class="l w" style="left:1054px;top:116px">0.7%</div><div class="l w" style="left:1052px;top:134px">0.2%</div><div class="l" style="left:1040px;top:153px">0.5%</div><div class="l" style="left:1047px;top:199px">2.9%</div><div class="l" style="left:1037px;top:261px">0.6%</div><div class="l" style="left:1052px;top:287px">1.5%</div>
<div class="l w" style="left:1105px;top:116px">0.7%</div><div class="l w" style="left:1103px;top:134px">0.2%</div><div class="l" style="left:1091px;top:153px">0.5%</div><div class="l" style="left:1100px;top:191px">1.4%</div><div class="l" style="left:1087px;top:252px">0.7%</div><div class="l" style="left:1107px;top:277px">1.4%</div>
<div class="l w" style="left:1156px;top:116px">0.6%</div><div class="l w" style="left:1154px;top:132px">0.3%</div><div class="l" style="left:1142px;top:153px">0.5%</div><div class="l" style="left:1150px;top:189px">1.2%</div><div class="l" style="left:1138px;top:249px">0.8%</div><div class="l" style="left:1157px;top:274px">1.2%</div>
<div class="l w" style="left:1207px;top:116px">0.6%</div><div class="l w" style="left:1205px;top:132px">0.3%</div><div class="l" style="left:1193px;top:153px">0.5%</div><div class="l" style="left:1203px;top:188px">1.2%</div><div class="l" style="left:1191px;top:250px">0.7%</div><div class="l" style="left:1210px;top:274px">1.0%</div>
<div class="l w" style="left:1258px;top:116px">0.6%</div><div class="l w" style="left:1256px;top:132px">0.3%</div><div class="l" style="left:1244px;top:150px">0.6%</div><div class="l" style="left:1252px;top:183px">1.0%</div><div class="l" style="left:1245px;top:243px">0.7%</div><div class="l" style="left:1258px;top:267px">0.9%</div>

<!-- legend -->
<div class="lg" style="top:249px"><i style="background:linear-gradient(#9289ab,#c8c0d8)"></i>廃食用油</div>
<div class="lg" style="top:287px"><i style="background:linear-gradient(#9ab35e,#d0e0b0)"></i>剪定枝</div>
<div class="lg" style="top:324px"><i style="background:linear-gradient(#c46a68,#e8b0b0)"></i>木くず</div>
<div class="lg" style="top:362px"><i style="background:linear-gradient(#7e98cc,#c0d0ec)"></i>小型家電</div>
<div class="lg" style="top:400px"><i style="background:linear-gradient(#7c3cb0,#b890d8)"></i>危険ごみ</div>
<div class="lg" style="top:437px"><i style="background:linear-gradient(#ffc000,#ffe27a)"></i>金属類</div>
<div class="lg" style="top:475px"><i style="background:linear-gradient(#9aba5c,#dfe9cb)"></i>かん･びん</div>
<div class="lg" style="top:513px"><i style="background:linear-gradient(#8ccadd,#e3f2f7)"></i>ダンボール</div>
<div class="lg" style="top:550px"><i style="background:linear-gradient(#deaaa9,#f8e7e7)"></i>新聞･雑誌</div>
<div class="lg" style="top:588px"><i style="background:linear-gradient(#bcd596,#eef4e3)"></i>雑がみ</div>
<div class="lg" style="top:626px"><i style="background:linear-gradient(#4bb0cc,#c8e8f0)"></i>紙パック</div>
<div class="lg" style="top:663px"><i style="background:linear-gradient(#f8b483,#fdeadc)"></i>紙製容器</div>
<div class="lg" style="top:701px"><i style="background:linear-gradient(#10b050,#80f0b0)"></i>白色トレイ</div>
<div class="lg" style="top:739px"><i style="background:linear-gradient(#e0302c,#ff9090)"></i>発泡スチロール</div>
<div class="lg" style="top:776px"><i style="background:linear-gradient(#4a7ec8,#c8dbf2)"></i>ペットボトル</div>
<div class="lg" style="top:814px"><i style="background:linear-gradient(#ae9cc6,#ece7f3)"></i>プラ製容器</div>
</div></body></html>
